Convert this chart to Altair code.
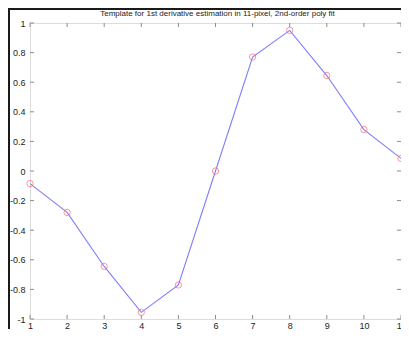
import altair as alt
import pandas as pd

# Data
x_vals = [1, 2, 3, 4, 5, 6, 7, 8, 9, 10, 11]
y_vals = [-0.085, -0.28, -0.645, -0.955, -0.77, 0.0, 0.77, 0.95, 0.645, 0.28, 0.085]
x_ticks = [1, 2, 3, 4, 5, 6, 7, 8, 9, 10, 11]
y_ticks = [-1, -0.8, -0.6, -0.4, -0.2, 0, 0.2, 0.4, 0.6, 0.8, 1]
title_text = ["Template for 1st derivative estimation in 11-pixel, 2nd-order poly fit"]

W, H = 371, 296
PL, PT, PR, PB = 22, 15, 0, 10
FONT = "Liberation Sans"
GRAY = "#8c8c8c"
TXT = "#222222"

df = pd.DataFrame({"x": x_vals, "y": y_vals})
xt = pd.DataFrame({"x": x_ticks})
yt = pd.DataFrame({"y": y_ticks})
tdf = pd.DataFrame({"t": title_text})
frames = pd.DataFrame({"side": ["left", "top"]})

xs = alt.Scale(domain=[1, 11], nice=False, zero=False)
ys = alt.Scale(domain=[-1, 1], nice=False, zero=False)
lab = "replace(format(datum.value, '~g'), '\u2212', '-')"

x_axis = alt.Axis(values=x_ticks, ticks=False, domain=False, grid=False, title=None,
                  labelPadding=2, labelFontSize=9, labelFont=FONT, labelColor=TXT,
                  labelExpr=lab, labelFlush=False)
y_axis = alt.Axis(values=y_ticks, ticks=False, domain=False, grid=False, title=None,
                  labelPadding=5, labelFontSize=9, labelFont=FONT, labelColor=TXT,
                  labelExpr=lab, labelFlush=False)

X = alt.X("x:Q", scale=xs, axis=x_axis)
Y = alt.Y("y:Q", scale=ys, axis=y_axis)

# window-frame edges (left and top), drawn in the padding area
frame_rect = alt.Chart(frames).mark_rect(color="#1a1a1a", clip=False).encode(
    x=alt.value(-PL),
    x2=alt.XValue(alt.ExprRef("datum.side == 'left' ? %d : %d" % (-PL + 2, W + PR))),
    y=alt.value(-PT),
    y2=alt.YValue(alt.ExprRef("datum.side == 'left' ? %d : %d" % (H + PB, -PT + 2))),
    detail="side:N",
)

line = alt.Chart(df).mark_line(color="#7d7dff", strokeWidth=1.1).encode(x=X, y=Y)
pts = alt.Chart(df).mark_point(shape="circle", filled=False, color="#ff6a6a",
                               size=40, strokeWidth=1).encode(x=X, y=Y)

tick_top = alt.Chart(xt).mark_rule(color=GRAY).encode(
    x=X, y=alt.value(0), y2=alt.value(4))
tick_bot = alt.Chart(xt).mark_rule(color=GRAY).encode(
    x=X, y=alt.value(H - 4), y2=alt.value(H))
tick_left = alt.Chart(yt).mark_rule(color=GRAY).encode(
    y=Y, x=alt.value(0), x2=alt.value(4))
tick_right = alt.Chart(yt).mark_rule(color=GRAY).encode(
    y=Y, x=alt.value(W - 4), x2=alt.value(W))

title = alt.Chart(tdf).mark_text(font=FONT, fontSize=8, color=TXT, align="center",
                                 baseline="middle").encode(
    text="t:N", x=alt.value(W / 2 + 2), y=alt.value(-9))

chart = alt.layer(
    line, pts, tick_top, tick_bot, tick_left, tick_right, title, frame_rect
).properties(
    width=W, height=H,
    autosize=alt.AutoSizeParams(type="none"),
    padding={"left": PL, "top": PT, "right": PR, "bottom": PB},
).configure_view(
    stroke=GRAY, strokeWidth=1.2
).configure(background="white")

chart.save("out.html", embed_options={"renderer": "svg", "actions": False})
